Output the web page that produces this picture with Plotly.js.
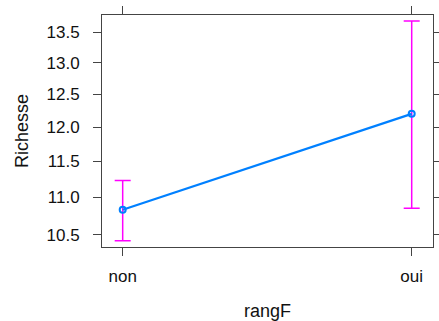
<!DOCTYPE html>
<html><head><meta charset="utf-8">
<script src="https://cdn.plot.ly/plotly-3.0.1.min.js"></script>
<style>html,body{margin:0;padding:0;background:#fff;}</style>
</head><body><div id="chart" style="width:439px;height:321px;"></div>
<script>
const categories = ["non", "oui"];
const fit = [10.83, 12.20];
const lower = [10.42, 10.85];
const upper = [11.23, 13.69];
const yTickVals = [10.5, 11.0, 11.5, 12.0, 12.5, 13.0, 13.5];
const yTickText = ["10.5", "11.0", "11.5", "12.0", "12.5", "13.0", "13.5"];

const errPlus = upper.map((u, i) => u - fit[i]);
const errMinus = fit.map((f, i) => f - lower[i]);

const trace = {
  type: "scatter",
  mode: "lines+markers",
  x: categories,
  y: fit,
  line: {color: "#0080ff", width: 2.2},
  marker: {symbol: "circle-open", size: 6, color: "#0080ff", line: {width: 2, color: "#0080ff"}},
  error_y: {type: "data", symmetric: false, array: errPlus, arrayminus: errMinus,
            color: "#ff00ff", thickness: 1.5, width: 8}
};

const font = {family: "Liberation Sans, Arial, sans-serif", size: 17, color: "#111"};
const axisCommon = {
  showline: true, mirror: "ticks", linecolor: "#444", linewidth: 1,
  ticks: "outside", ticklen: 8, tickcolor: "#444", tickwidth: 1,
  showgrid: false, zeroline: false, tickfont: font
};

const layout = {
  width: 439, height: 321,
  margin: {l: 102, r: 6, t: 15, b: 74},
  paper_bgcolor: "#fff", plot_bgcolor: "#fff",
  showlegend: false,
  font: font,
  xaxis: Object.assign({}, axisCommon, {
    type: "category", range: [-0.0716, 1.0737],
    ticklabelstandoff: 6, automargin: false,
    title: {text: "rangF", font: {family: font.family, size: 18, color: "#111"}, standoff: 18}
  }),
  yaxis: Object.assign({}, axisCommon, {
    type: "log", range: [1.0145, 1.1397],
    tickmode: "array", tickvals: yTickVals, ticktext: yTickText,
    ticklabelstandoff: 10, automargin: false,
    title: {text: "Richesse", font: {family: font.family, size: 18, color: "#111"}, standoff: 13}
  })
};

Plotly.newPlot("chart", [trace], layout, {displayModeBar: false, staticPlot: true});
</script></body></html>
